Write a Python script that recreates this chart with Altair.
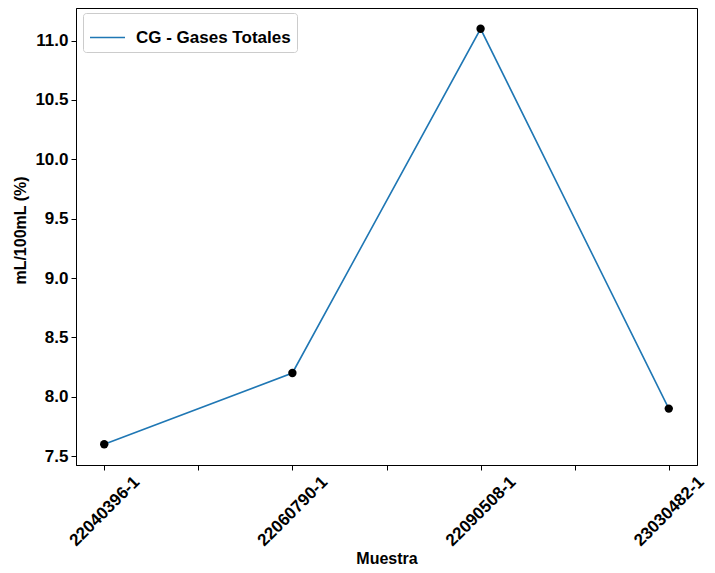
import altair as alt
import pandas as pd

samples = ["22040396-1", "22060790-1", "22090508-1", "23030482-1"]
values = [7.6, 8.2, 11.1, 7.9]
series_name = "CG - Gases Totales"
y_ticks = [7.5, 8.0, 8.5, 9.0, 9.5, 10.0, 10.5, 11.0]
x_ticks = [0, 0.5, 1, 1.5, 2, 2.5, 3]

df = pd.DataFrame({
    "idx": list(range(len(samples))),
    "Muestra": samples,
    "value": values,
    "serie": [series_name] * len(samples),
})

FONT = "Liberation Sans"
names_js = "[" + ",".join("'" + s + "'" for s in samples) + "]"

x_enc = alt.X(
    "idx:Q",
    scale=alt.Scale(domain=[-0.15, 3.15], nice=False, zero=False),
    axis=alt.Axis(
        title="Muestra",
        values=x_ticks,
        labelExpr=f"datum.value % 1 == 0 ? {names_js}[datum.value] : ''",
        labelAngle=-45,
        labelAlign="center",
        labelBaseline="middle",
        labelPadding=41,
        tickSize=5,
        grid=False,
        titleY=93,
        titleBaseline="middle",
        labelFlush=False,
        labelOverlap=False,
    ),
)
y_enc = alt.Y(
    "value:Q",
    scale=alt.Scale(domain=[7.425, 11.275], nice=False, zero=False),
    axis=alt.Axis(
        title="mL/100mL (%)",
        values=y_ticks,
        format=".1f",
        tickSize=5,
        labelPadding=3,
        grid=False,
        titleX=-56,
        titleY=222,
        titleAlign="center",
        titleBaseline="middle",
    ),
)

line = alt.Chart(df).mark_line(strokeWidth=1.6).encode(
    x=x_enc,
    y=y_enc,
    color=alt.Color(
        "serie:N",
        scale=alt.Scale(domain=[series_name], range=["#1f77b4"]),
        legend=alt.Legend(
            title=None,
            orient="none",
            legendX=7,
            legendY=5,
            symbolType="stroke",
            symbolSize=1225,
            symbolStrokeWidth=1.6,
            labelOffset=10,
            padding=6,
            strokeColor="#cccccc",
            fillColor="white",
            cornerRadius=3,
            labelFont=FONT,
            labelFontSize=17,
            labelFontWeight="bold",
            labelColor="black",
        ),
    ),
)

points = alt.Chart(df).mark_circle(color="black", opacity=1, size=70).encode(
    x="idx:Q",
    y="value:Q",
)

chart = (
    alt.layer(line, points)
    .properties(
        width=621,
        height=457,
        autosize=alt.AutoSizeParams(type="none"),
        padding={"left": 68, "top": 0, "right": 10, "bottom": 100},
    )
    .configure_view(stroke="black", strokeWidth=1)
    .configure_axis(
        labelFont=FONT,
        labelFontSize=17,
        labelFontWeight="bold",
        labelColor="black",
        titleFont=FONT,
        titleFontSize=16,
        titleFontWeight="bold",
        titleColor="black",
        domainColor="black",
        tickColor="black",
        domainWidth=1,
        tickWidth=1,
    )
)

chart.save("out.html", embed_options={"renderer": "svg", "actions": False})
